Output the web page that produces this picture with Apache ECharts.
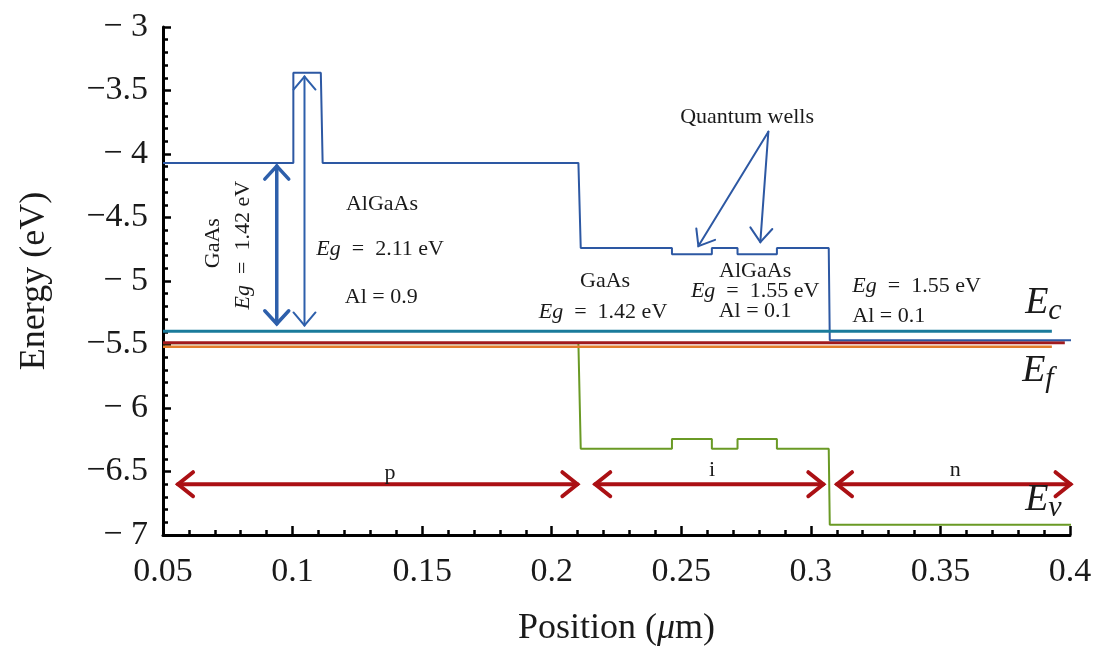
<!DOCTYPE html>
<html><head><meta charset="utf-8">
<script src="https://cdn.jsdelivr.net/npm/echarts@6/dist/echarts.min.js"></script>
<style>html,body{margin:0;padding:0;background:#fff}#c{width:1099px;height:652px}</style>
</head><body><div id="c"></div>
<script>
const FONT = 'Liberation Serif';

// Conduction band (blue)
const cbX = [0.05, 0.1003, 0.1003, 0.1109, 0.1116, 0.2103, 0.2112, 0.2464, 0.2464, 0.2618, 0.2618, 0.2717, 0.2717, 0.2869, 0.2869, 0.3069, 0.3073, 0.401];
const cbY = [-4.07, -4.07, -3.36, -3.36, -4.07, -4.07, -4.74, -4.74, -4.79, -4.79, -4.74, -4.74, -4.79, -4.79, -4.74, -4.74, -5.466, -5.466];
// Valence band (green)
const vbX = [0.05, 0.2103, 0.2112, 0.2464, 0.2464, 0.2618, 0.2618, 0.2717, 0.2717, 0.2869, 0.2869, 0.3069, 0.3073, 0.402];
const vbY = [-5.49, -5.49, -6.32, -6.32, -6.245, -6.245, -6.32, -6.32, -6.245, -6.245, -6.32, -6.32, -6.92, -6.92];
// Flat levels
const tealX = [0.05, 0.393];   const tealY = [-5.395, -5.395];
const redX = [0.05, 0.398];    const redY = [-5.487, -5.487];
const orangeX = [0.05, 0.393]; const orangeY = [-5.518, -5.518];

// Region arrows (p, i, n)
const regionStart = [0.0558, 0.2168, 0.3101];
const regionEnd = [0.2099, 0.3048, 0.4002];
const regionY = [-6.6, -6.6, -6.6];
// Band gap arrows (blue, vertical)
const gapArrowX = [0.0939, 0.1046];
const gapArrowTop = [-4.095, -3.39];
const gapArrowBottom = [-5.337, -5.35];
// Quantum wells pointer arrows
const qwFrom = [[0.2836, -3.824], [0.2836, -3.824]];
const qwTo = [[0.2566, -4.725], [0.2805, -4.694]];

const yTicks = ['-3', '-3.5', '-4', '-4.5', '-5', '-5.5', '-6', '-6.5', '-7'];

// Annotation texts
const annText = ['AlGaAs', '{i|Eg}  =  2.11 eV', 'Al = 0.9', 'Quantum wells', 'GaAs', '{i|Eg}  =  1.42 eV', 'AlGaAs', '{i|Eg}  =  1.55 eV', 'Al = 0.1', '{i|Eg}  =  1.55 eV', 'Al = 0.1', 'p', 'i', 'n'];
const annX = [0.1345, 0.1338, 0.1342, 0.2754, 0.2206, 0.2198, 0.2785, 0.2785, 0.2785, 0.316, 0.316, 0.1376, 0.2619, 0.3557];
const annY = [-4.396, -4.749, -5.125, -3.714, -5.0, -5.243, -4.922, -5.078, -5.235, -5.039, -5.275, -6.514, -6.49, -6.49];
const annAlign = ['center','center','center','center','center','center','center','center','center','left','left','center','center','center'];
// Rotated labels
const rotText = ['GaAs', '{i|Eg}  =  1.42 eV'];
const rotX = [0.0693, 0.0809];
const rotY = [-4.702, -4.718];
// Band labels E_c, E_f, E_v
const bandSub = ['c', 'f', 'v'];
const bandX = [0.3827, 0.3816, 0.3827];
const bandY = [-5.173, -5.706, -6.725];

const pairs = (xs, ys) => xs.map((x, i) => [x, ys[i]]);

function arrowSeries(data, color, width, headLen, headHalf, both, z) {
  return {
    type: 'custom', z: z || 5, silent: true, clip: false,
    data: data,
    renderItem: function (params, api) {
      const p1 = api.coord([api.value(0), api.value(1)]);
      const p2 = api.coord([api.value(2), api.value(3)]);
      const dx = p2[0] - p1[0], dy = p2[1] - p1[1];
      const L = Math.hypot(dx, dy);
      const ux = dx / L, uy = dy / L, nx = -uy, ny = ux;
      const st = { stroke: color, lineWidth: width, fill: null, lineCap: 'round', lineJoin: 'miter' };
      const children = [{ type: 'line', shape: { x1: p1[0], y1: p1[1], x2: p2[0], y2: p2[1] }, style: st }];
      children.push({ type: 'polyline', shape: { points: [
        [p2[0] - ux * headLen + nx * headHalf, p2[1] - uy * headLen + ny * headHalf], p2,
        [p2[0] - ux * headLen - nx * headHalf, p2[1] - uy * headLen - ny * headHalf]] }, style: st });
      if (both) {
        children.push({ type: 'polyline', shape: { points: [
          [p1[0] + ux * headLen + nx * headHalf, p1[1] + uy * headLen + ny * headHalf], p1,
          [p1[0] + ux * headLen - nx * headHalf, p1[1] + uy * headLen - ny * headHalf]] }, style: st });
      }
      return { type: 'group', children: children };
    }
  };
}

const textColor = '#1a1a1a';
const rich = { i: { fontStyle: 'italic', fontFamily: FONT, fontSize: 22, fill: textColor, color: textColor } };

const lineBase = { type: 'line', showSymbol: false, symbol: 'none', clip: false, silent: true, animation: false };

const option = {
  animation: false,
  backgroundColor: '#ffffff',
  grid: { left: 163, right: 29, top: 27, bottom: 115, containLabel: false },
  xAxis: {
    type: 'value', min: 0.05, max: 0.4, interval: 0.05,
    name: '{t|Position (}{m|μ}{t|m)}', nameLocation: 'middle', nameGap: 76,
    nameTextStyle: { rich: {
      t: { fontFamily: FONT, fontSize: 36, color: textColor },
      m: { fontFamily: FONT, fontSize: 36, fontStyle: 'italic', color: textColor } } },
    axisLine: { show: true, onZero: false, lineStyle: { color: '#000', width: 3 } },
    axisTick: { show: true, inside: true, length: 9, lineStyle: { color: '#000', width: 2.5 } },
    minorTick: { show: true, splitNumber: 5, length: 5, lineStyle: { color: '#000', width: 2.5 } },
    splitLine: { show: false },
    axisLabel: { fontFamily: FONT, fontSize: 34, color: textColor, margin: 20 }
  },
  yAxis: {
    type: 'value', min: -7, max: -3, interval: 0.5,
    name: 'Energy (eV)', nameLocation: 'middle', nameGap: 110, nameRotate: 90,
    nameTextStyle: { fontFamily: FONT, fontSize: 36, color: textColor },
    axisLine: { show: true, onZero: false, lineStyle: { color: '#000', width: 3 } },
    axisTick: { show: true, inside: true, length: 8, lineStyle: { color: '#000', width: 2.5 } },
    minorTick: { show: true, splitNumber: 5, length: 5, lineStyle: { color: '#000', width: 2.5 } },
    splitLine: { show: false },
    axisLabel: {
      fontFamily: FONT, fontSize: 34, color: textColor, margin: 15,
      formatter: function (v) {
        const s = yTicks.find(t => Math.abs(parseFloat(t) - v) < 1e-9) || String(v);
        const abs = s.replace('-', '');
        return (s[0] === '-' ? '\u2212' : '') + (abs.indexOf('.') < 0 ? '\u2005' : '') + abs;
      }
    }
  },
  series: [
    Object.assign({}, lineBase, { name: 'Ev', z: 2, data: pairs(vbX, vbY), lineStyle: { color: '#6a9a25', width: 2 } }),
    Object.assign({}, lineBase, { name: 'orange', z: 3, data: pairs(orangeX, orangeY), lineStyle: { color: '#e27d2c', width: 2.5 } }),
    Object.assign({}, lineBase, { name: 'Ef', z: 4, data: pairs(redX, redY), lineStyle: { color: '#a11a1d', width: 3 } }),
    Object.assign({}, lineBase, { name: 'Ec', z: 5, data: pairs(cbX, cbY), lineStyle: { color: '#2d58a3', width: 2 } }),
    Object.assign({}, lineBase, { name: 'teal', z: 6, data: pairs(tealX, tealY), lineStyle: { color: '#1a7b9b', width: 3 } }),
    arrowSeries(regionStart.map((s, i) => [s, regionY[i], regionEnd[i], regionY[i]]), '#ab1014', 4, 15, 12, true, 7),
    arrowSeries([[gapArrowX[0], gapArrowTop[0], gapArrowX[0], gapArrowBottom[0]]], '#2d5fab', 3.5, 13, 12, true, 7),
    arrowSeries([[gapArrowX[1], gapArrowTop[1], gapArrowX[1], gapArrowBottom[1]]], '#2d5fab', 2, 13, 11, true, 7),
    arrowSeries(qwFrom.map((f, i) => [f[0], f[1], qwTo[i][0], qwTo[i][1]]), '#2d58a3', 2, 14, 11, false, 7),
    {
      type: 'custom', z: 8, silent: true, clip: false,
      data: annText.map((t, i) => [annX[i], annY[i], i]),
      renderItem: function (params, api) {
        const i = api.value(2);
        const p = api.coord([api.value(0), api.value(1)]);
        return { type: 'text', x: p[0], y: p[1], style: {
          text: annText[i], rich: rich, fontFamily: FONT, fontSize: 22, fill: textColor,
          align: annAlign[i], verticalAlign: 'middle' } };
      }
    },
    {
      type: 'custom', z: 8, silent: true, clip: false,
      data: rotText.map((t, i) => [rotX[i], rotY[i], i]),
      renderItem: function (params, api) {
        const i = api.value(2);
        const p = api.coord([api.value(0), api.value(1)]);
        return { type: 'text', x: p[0], y: p[1], rotation: Math.PI / 2, style: {
          text: rotText[i], rich: rich, fontFamily: FONT, fontSize: 22, fill: textColor,
          align: 'center', verticalAlign: 'middle' } };
      }
    },
    {
      type: 'custom', z: 8, silent: true, clip: false,
      data: bandSub.map((t, i) => [bandX[i], bandY[i], i]),
      renderItem: function (params, api) {
        const i = api.value(2);
        const p = api.coord([api.value(0), api.value(1)]);
        return { type: 'group', children: [
          { type: 'text', x: p[0], y: p[1], style: { text: 'E', fontFamily: FONT, fontSize: 38, fontStyle: 'italic', fill: textColor, align: 'left', verticalAlign: 'middle' } },
          { type: 'text', x: p[0] + 23, y: p[1] + 8, style: { text: bandSub[i], fontFamily: FONT, fontSize: 30, fontStyle: 'italic', fill: textColor, align: 'left', verticalAlign: 'middle' } }
        ] };
      }
    }
  ]
};

const chart = echarts.init(document.getElementById('c'), null, { renderer: 'canvas' });
chart.setOption(option);
</script>
</body></html>
